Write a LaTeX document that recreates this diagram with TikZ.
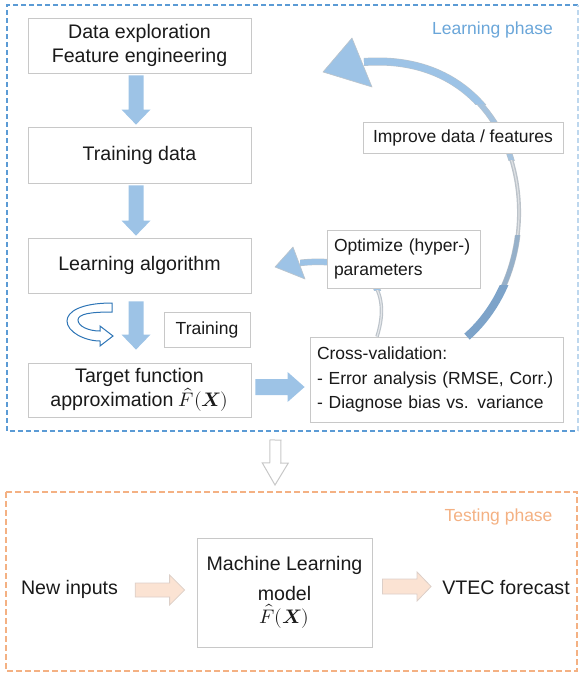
\documentclass[tikz,border=0pt]{standalone}
\usepackage{amsmath}
\usepackage{fontspec}
\usepackage{unicode-math}
\setmainfont{Liberation Sans}
\usetikzlibrary{calc}
\definecolor{arrblue}{HTML}{9DC3E6}
\definecolor{steel}{HTML}{7DA3C9}
\definecolor{midgray}{HTML}{BCC3CA}
\definecolor{dblue}{HTML}{2E75B6}
\definecolor{dashblue}{HTML}{5B9BD5}
\definecolor{dashlight}{HTML}{BDD7EE}
\definecolor{dashorange}{HTML}{F4B183}
\definecolor{boxgray}{HTML}{C8C8C8}
\definecolor{peach}{HTML}{FBE3D3}
\definecolor{peachedge}{HTML}{DCCFC8}
\definecolor{phaseblue}{HTML}{6AA6D9}
\definecolor{phaseorange}{HTML}{F4B183}
\definecolor{txt}{HTML}{1A1A1A}
\newcommand\bigf{\fontsize{19.6}{24.5}\selectfont}
\newcommand\smallf{\fontsize{17.5}{24.5}\selectfont}
\newcommand\fhat{$\hat{F}(\symbfit{X})$}
\newcommand\blockarrow[6]{%
  \path[#6] ($(#1)!#3!90:(#2)$) -- ($(#2)!#5!(#1)!#3!90:(#2)$) -- ($(#2)!#5!(#1)!#4!90:(#2)$) -- (#2)
   -- ($(#2)!#5!(#1)!#4!-90:(#2)$) -- ($(#2)!#5!(#1)!#3!-90:(#2)$) -- ($(#1)!#3!-90:(#2)$) -- cycle;}
\tikzset{
  procbox/.style={draw=boxgray, line width=0.8pt, fill=white, inner sep=0pt, align=center, text=txt, font=\bigf},
  smallbox/.style={procbox, font=\smallf},
  plain/.style={inner sep=0pt, text=txt, font=\bigf},
  bluefill/.style={fill=arrblue},
  peacharrow/.style={fill=peach, draw=peachedge, line width=0.8pt},
  hollowarrow/.style={fill=white, draw=boxgray, line width=1pt},
  headstyle/.style={fill=arrblue, draw=midgray, line width=0.6pt, line join=round},
}
\begin{document}
\begin{tikzpicture}[x=1pt,y=-1pt]
\useasboundingbox (0,0) rectangle (579,675);
% frames
\coordinate (lnw) at (7,5);
\coordinate (lne) at (578,5);
\coordinate (lsw) at (7,431);
\coordinate (lse) at (578,431);
\coordinate (ls) at (292.5,431);
\coordinate (tnw) at (6,492);
\coordinate (tse) at (577,671);
\coordinate (tn) at (291.5,492);
\draw[dashblue, line width=1.5pt, dash pattern=on 5pt off 3pt] (lne) -- (lnw) -- (lsw) -- (lse);
\draw[dashlight, line width=1.2pt, dash pattern=on 5pt off 3pt] (lse) -- (lne);
\draw[dashorange, line width=1.5pt, dash pattern=on 6pt off 3pt] (tnw) rectangle (tse);
\node[inner sep=0pt, text=phaseblue, font=\smallf] (lp) at (492.5,30) {Learning phase};
\node[inner sep=0pt, text=phaseorange, font=\smallf] (tp) at (498.5,517) {Testing phase};

% cross-validation box (anchors for the curved arrows)
\node[smallbox, align=left, text width=239pt, inner xsep=7pt, minimum height=85pt] (cv) at (436.5,379.5)
  {Cross-validation:\\- Error analysis (RMSE, Corr.)\\- Diagnose bias vs. variance};

% big curved arrow
\coordinate (bs) at ($(cv.north)+(30.5,0)$);
\coordinate (be) at (364,62);
\begin{scope}
  \clip (300,0) rectangle (579,104);
  \draw[midgray, line width=8pt] (bs) .. controls (560,255) and (530,50) .. (be);
  \draw[arrblue, line width=7pt] (bs) .. controls (560,255) and (530,50) .. (be);
\end{scope}
\begin{scope}
  \clip (300,104) rectangle (579,160);
  \draw[midgray, line width=6pt] (bs) .. controls (560,255) and (530,50) .. (be);
  \draw[arrblue!70!midgray, line width=5pt] (bs) .. controls (560,255) and (530,50) .. (be);
\end{scope}
\begin{scope}
  \clip (300,160) rectangle (579,235);
  \draw[midgray, line width=4pt] (bs) .. controls (560,255) and (530,50) .. (be);
  \draw[white!50!midgray, line width=1.2pt] (bs) .. controls (560,255) and (530,50) .. (be);
\end{scope}
\begin{scope}
  \clip (300,235) rectangle (579,285);
  \draw[midgray, line width=5.5pt] (bs) .. controls (560,255) and (530,50) .. (be);
  \draw[steel!60!midgray, line width=4.5pt] (bs) .. controls (560,255) and (530,50) .. (be);
\end{scope}
\begin{scope}
  \clip (300,285) rectangle (579,340);
  \draw[steel, line width=8pt] (bs) .. controls (560,255) and (530,50) .. (be);
\end{scope}
\coordinate (bt) at (323,72);
\filldraw[headstyle] (bt) -- (352,38) -- (372,87) -- cycle;

% small curved arrow
\coordinate (ss) at ($(cv.north)+(-59.5,0)$);
\coordinate (se) at (299,263);
\begin{scope}
  \clip (300,220) rectangle (400,290);
  \draw[midgray, line width=6.5pt] (ss) .. controls (392,290) and (370,255) .. (se);
  \draw[arrblue, line width=5.5pt] (ss) .. controls (392,290) and (370,255) .. (se);
\end{scope}
\begin{scope}
  \clip (300,290) rectangle (400,340);
  \draw[midgray, line width=3.5pt] (ss) .. controls (392,290) and (370,255) .. (se);
  \draw[white!60!midgray, line width=1.2pt] (ss) .. controls (392,290) and (370,255) .. (se);
\end{scope}
\coordinate (st) at (275,267);
\filldraw[headstyle] (st) -- (293,247) -- (305,279) -- cycle;

% boxes
\node[procbox, minimum width=223pt, minimum height=55pt] (de) at (139.5,45.5) {Data exploration\\Feature engineering};
\node[procbox, minimum width=223pt, minimum height=56pt] (td) at (139.5,155) {Training data};
\node[procbox, minimum width=223pt, minimum height=55pt] (la) at (139.5,265.5) {Learning algorithm};
\node[procbox, minimum width=223pt, minimum height=54pt] (tf) at (139.5,390) {Target function\\approximation \fhat};
\node[smallbox, minimum width=86pt, minimum height=35pt] (tr) at (207,329.5) {Training};
\node[smallbox, align=left, text width=139pt, inner xsep=7pt, minimum height=58pt] (opt) at (403.5,259) {Optimize (hyper-)\\parameters};
\node[smallbox, minimum width=200pt, minimum height=31pt] (imp) at (463,137.5) {Improve data / features};
\node[procbox, minimum width=175pt, minimum height=109pt] (ml) at (284.5,592.5) {Machine Learning\\[5pt]model\\[-1.5pt]\fhat};
\node[plain] (ni) at (69.5,589) {New inputs};
\node[plain] (vt) at (506,587) {VTEC forecast};

% block arrows
\coordinate (a1s) at ($(de.south)+(-3.5,2)$);
\coordinate (a1e) at ($(td.north)+(-3.5,-2)$);
\coordinate (a2s) at ($(td.south)+(-3.5,2)$);
\coordinate (a2e) at ($(la.north)+(-3.5,-2)$);
\coordinate (a3s) at ($(la.south)+(-3.5,8)$);
\coordinate (a3e) at ($(tf.north)+(-3.5,-13)$);
\blockarrow{a1s}{a1e}{7.5pt}{14.5pt}{15pt}{bluefill}
\blockarrow{a2s}{a2e}{7.5pt}{14.5pt}{15pt}{bluefill}
\blockarrow{a3s}{a3e}{7.5pt}{14.5pt}{15pt}{bluefill}
\coordinate (a4s) at ($(tf.east)+(4,-3)$);
\coordinate (a4e) at ($(cv.west)+(-5,7.5)$);
\blockarrow{a4s}{a4e}{8pt}{15pt}{17pt}{bluefill}
\coordinate (hs) at ($(ls)+(-17,9)$);
\coordinate (he) at ($(tn)+(-16.5,-7)$);
\blockarrow{hs}{he}{5.5pt}{13pt}{22pt}{hollowarrow}
\coordinate (o1s) at ($(ni.east)+(17,1)$);
\coordinate (o1e) at ($(ml.west)+(-12,-2.5)$);
\blockarrow{o1s}{o1e}{7pt}{15pt}{15pt}{peacharrow}
\coordinate (o2s) at ($(ml.east)+(10,-6)$);
\coordinate (o2e) at ($(vt.west)+(-11,-0.5)$);
\blockarrow{o2s}{o2e}{7.5pt}{14.5pt}{14pt}{peacharrow}

% circular training arrow
\filldraw[fill=white, draw=dblue, line width=1pt, line join=miter]
  (112,303) .. controls (80,303) and (67,312) .. (67,321)
  .. controls (67,332) and (85,341) .. (100,341) -- (100,346) -- (113,336) -- (100,326) -- (100,331)
  .. controls (88,331) and (78,326) .. (78,320) .. controls (78,314) and (90,312) .. (112,312) -- cycle;
\end{tikzpicture}
\end{document}
